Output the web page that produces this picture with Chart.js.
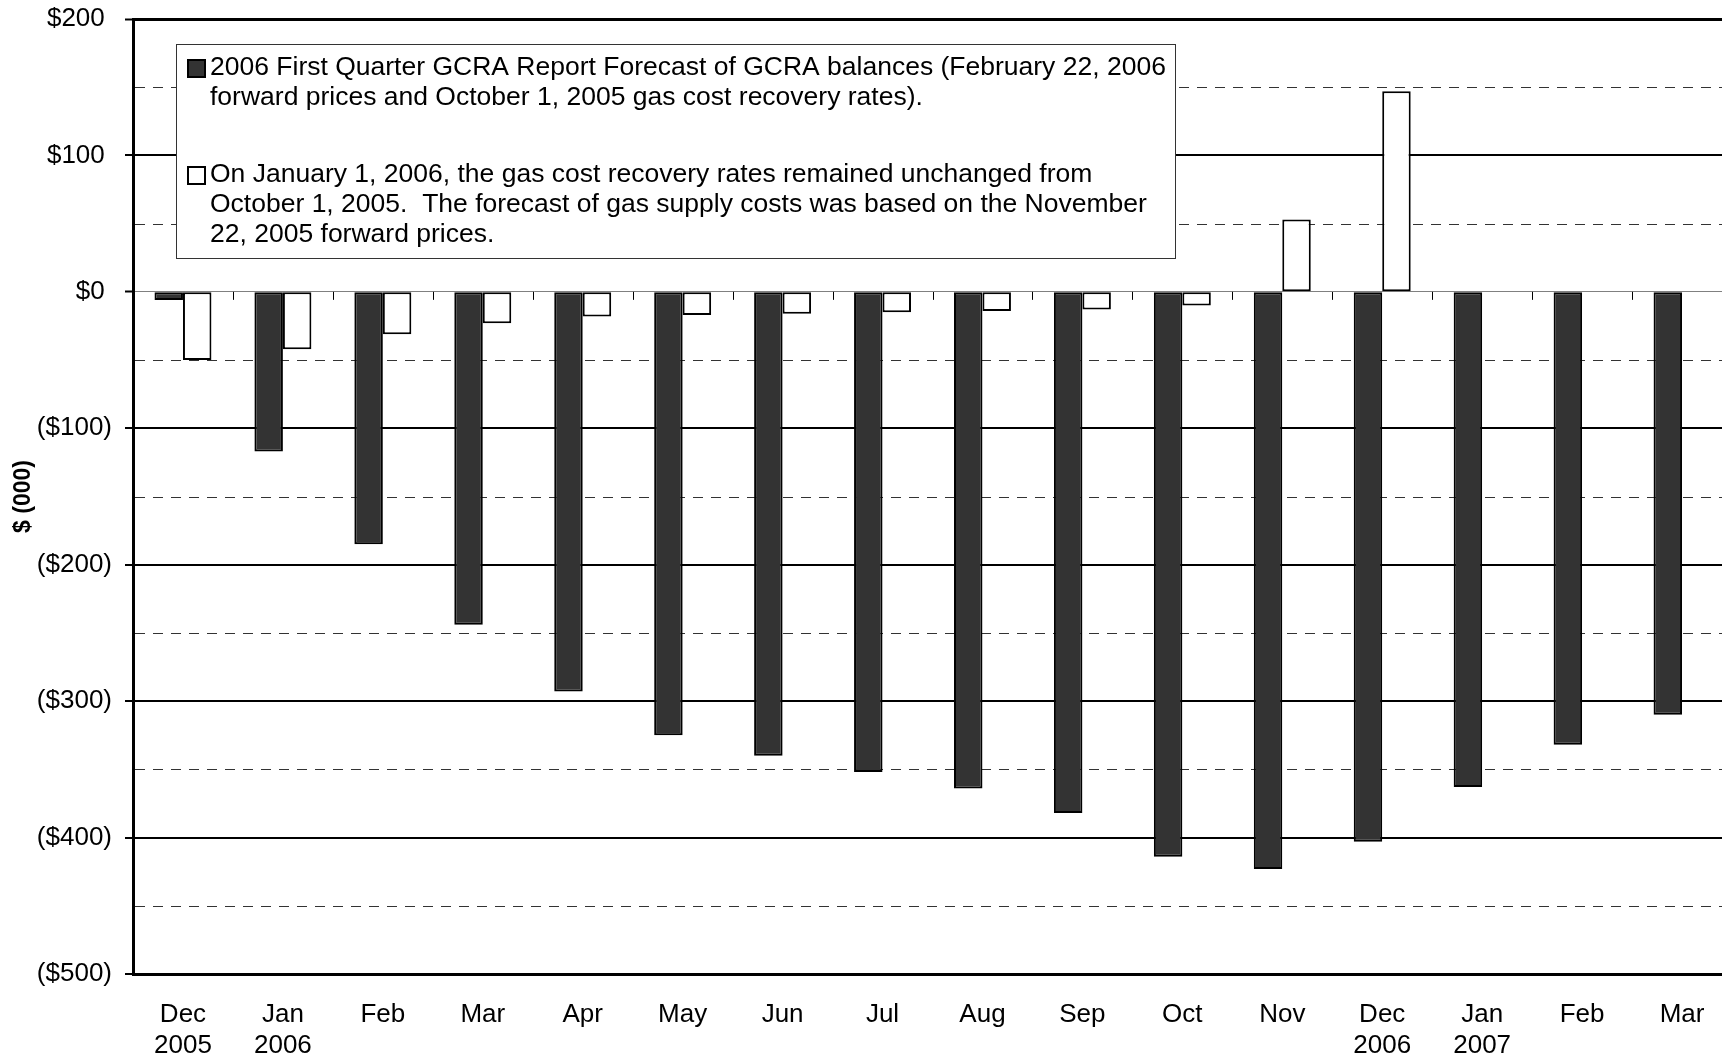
<!DOCTYPE html>
<html>
<head>
<meta charset="utf-8">
<script src="https://cdn.jsdelivr.net/npm/chart.js@4.4.1/dist/chart.umd.min.js"></script>
<style>
html,body{margin:0;padding:0;background:#fff;overflow:hidden;}
#wrap{position:relative;width:1722px;height:1059px;overflow:hidden;}
#box{position:absolute;left:0;top:0;width:1732px;height:1059px;}
</style>
</head>
<body>
<div id="wrap"><div id="box"><canvas id="gcra"></canvas></div></div>
<script>
const months=[["Dec","2005"],["Jan","2006"],"Feb","Mar","Apr","May","Jun","Jul","Aug","Sep","Oct","Nov",["Dec","2006"],["Jan","2007"],"Feb","Mar"];
const forecastFeb=[-6,-117,-185,-244,-293,-325,-340,-352,-364,-382,-414,-423,-403,-363,-332,-310];
const forecastNov=[-50,-42,-31,-23,-18,-17,-16,-15,-14,-13,-10,53,147,null,null,null];
const halfSteps=[150,50,-50,-150,-250,-350,-450];
const legendFeb=["2006 First Quarter GCRA Report Forecast of GCRA balances (February 22, 2006","forward prices and October 1, 2005 gas cost recovery rates)."];
const legendNov=["On January 1, 2006, the gas cost recovery rates remained unchanged from","October 1, 2005.  The forecast of gas supply costs was based on the November","22, 2005 forward prices."];

const FONT="'Liberation Sans', Arial, sans-serif";
const fmt=v=> v<0 ? '($'+(-v)+')' : '$'+v+' ';

// dashed half gridlines + little ticks on the zero line
const extraGrid={
  id:'extraGrid',
  beforeDatasetsDraw(chart){
    const {ctx,chartArea:a,scales:{x,y}}=chart;
    ctx.save();
    ctx.strokeStyle='#333';
    ctx.lineWidth=1;
    ctx.setLineDash([10,8]);
    halfSteps.forEach(v=>{
      const py=Math.round(y.getPixelForValue(v))+0.5;
      ctx.beginPath();ctx.moveTo(a.left+2,py);ctx.lineTo(a.right,py);ctx.stroke();
    });
    ctx.setLineDash([]);
    const y0=y.getPixelForValue(0);
    ctx.strokeStyle='#000';
    for(let i=1;i<months.length;i++){
      const px=Math.round((x.getPixelForValue(i-1)+x.getPixelForValue(i))/2)+0.5;
      ctx.beginPath();ctx.moveTo(px,y0);ctx.lineTo(px,y0+8);ctx.stroke();
    }
    ctx.restore();
  }
};

// boxed legend inside the plot
const boxLegend={
  id:'boxLegend',
  afterDatasetsDraw(chart){
    const ctx=chart.ctx;
    ctx.save();
    ctx.fillStyle='#fff';
    ctx.fillRect(176,44,999,214);
    ctx.strokeStyle='#333';
    ctx.lineWidth=1;
    ctx.strokeRect(176.5,44.5,999,214);
    ctx.lineWidth=2;
    ctx.strokeStyle='#000';
    ctx.fillStyle='#333';
    ctx.fillRect(188,60,17,17);ctx.strokeRect(188,60,17,17);
    ctx.fillStyle='#fff';
    ctx.fillRect(188,167,17,17);ctx.strokeRect(188,167,17,17);
    ctx.fillStyle='#000';
    ctx.font='26.5px '+FONT;
    ctx.textBaseline='middle';
    legendFeb.forEach((t,i)=>ctx.fillText(t,210,68+i*30));
    legendNov.forEach((t,i)=>ctx.fillText(t,210,175+i*30));
    ctx.restore();
  }
};

new Chart(document.getElementById('gcra'),{
  type:'bar',
  data:{
    labels:months,
    datasets:[
      {label:legendFeb.join(' '),data:forecastFeb,backgroundColor:'#333333',borderColor:'#000',borderWidth:2,borderSkipped:false,categoryPercentage:0.57,barPercentage:1},
      {label:legendNov.join(' '),data:forecastNov,backgroundColor:'#ffffff',borderColor:'#000',borderWidth:2,borderSkipped:false,categoryPercentage:0.57,barPercentage:1}
    ]
  },
  options:{
    responsive:true,
    maintainAspectRatio:false,
    animation:false,
    layout:{padding:{top:19,right:0,left:0,bottom:0}},
    plugins:{legend:{display:false},tooltip:{enabled:false}},
    scales:{
      x:{
        grid:{display:false,drawTicks:false},
        border:{display:true,color:'#000',width:3},
        ticks:{color:'#000',font:{family:FONT,size:26},padding:25,maxRotation:0,autoSkip:false},
        afterFit(s){s.height=85;s.paddingLeft=0;s.paddingRight=0;}
      },
      y:{
        min:-500,max:200,
        ticks:{stepSize:100,color:'#000',font:{family:FONT,size:26},padding:13,callback:v=>fmt(v)},
        grid:{
          color:c=>c.tick&&c.tick.value===0?'#808080':'#000',
          lineWidth:c=>c.tick&&c.tick.value===0?1:(c.tick&&c.tick.value===200?3:2),
          tickLength:8,tickColor:'#000',tickWidth:2
        },
        border:{color:'#000',width:3},
        title:{display:true,text:'$ (000)',color:'#000',font:{family:FONT,size:23,weight:'bold'},padding:{top:10,bottom:0}},
        afterFit(s){s.width=133;s.paddingTop=0;s.paddingBottom=0;}
      }
    }
  },
  plugins:[extraGrid,boxLegend]
});
</script>
</body>
</html>
